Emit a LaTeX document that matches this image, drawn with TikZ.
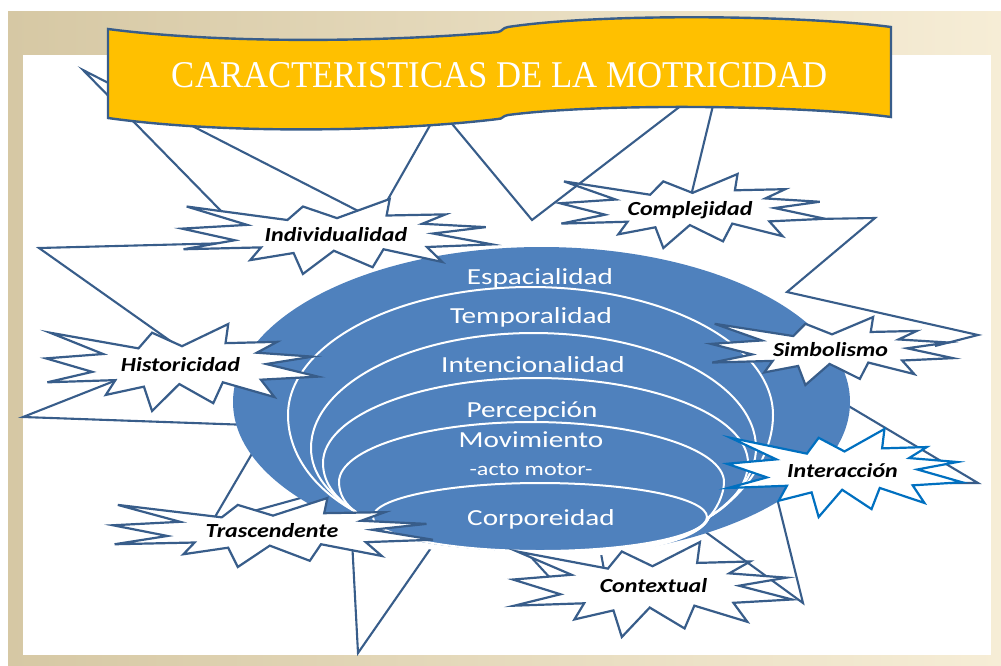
\documentclass[tikz,border=0pt]{standalone}
\usepackage{fontspec}
\newfontfamily\calibri{Carlito}
\newfontfamily\titulofont{Liberation Serif}
\definecolor{marco1}{HTML}{D6C8A4}
\definecolor{marco2}{HTML}{F6EDD6}
\definecolor{azulelipse}{HTML}{4F81BD}
\definecolor{azulborde}{HTML}{385D8A}
\definecolor{azulvivo}{HTML}{0070C0}
\definecolor{oro}{HTML}{FFC000}
\newcommand{\ancho}[1]{\scalebox{1.27}[1]{#1}}
\newcommand{\anchor}[1]{\scalebox{1.2}[1]{#1}}
\tikzset{
  burst/.pic={\path[pic actions] (0.015,0.10) -- (0.34,0.28) -- (0.39,0.10) -- (0.50,0.255) -- (0.67,0) -- (0.66,0.22) -- (0.85,0.205) -- (0.775,0.33) -- (0.98,0.375) -- (0.81,0.46) -- (1,0.605) -- (0.79,0.64) -- (0.84,0.84) -- (0.65,0.67) -- (0.615,0.91) -- (0.49,0.69) -- (0.39,1) -- (0.36,0.72) -- (0.22,0.815) -- (0.255,0.645) -- (0.005,0.67) -- (0.17,0.55) -- (0,0.395) -- (0.21,0.345) -- cycle;},
  estrella/.style={draw=azulborde, fill=white, line width=2.2},
  rayo/.style={draw=azulborde, line width=2.1},
  capa/.style={draw=white, line width=2},
  textocapa/.style={text=white, anchor=base, inner sep=0pt, font=\calibri\fontsize{23}{23}\selectfont},
  rasgo/.style={anchor=base, inner sep=0pt, font=\calibri\bfseries\itshape\fontsize{20}{20}\selectfont},
}
\begin{document}
\begin{tikzpicture}[x=1pt,y=-1pt]
\useasboundingbox (0,0) rectangle (1001,665);
\fill[white] (0,0) rectangle (1001,665);
\shade[left color=marco1,right color=marco2] (8,11) rectangle (1001,665);
\fill[white] (23,55) rectangle (991,655);
% rayos del fondo
\draw[rayo] (225,215) -- (83,70) -- (366,215);
\draw[rayo] (383,208) -- (445,99);
\draw[rayo] (433,101) -- (453,125) -- (532,220) -- (678,108) -- (705,87);
\draw[rayo] (718,85) -- (690,200);
\draw[rayo] (815,219) -- (875,218) -- (787,292) -- (978,335) -- (935,346);
\draw[rayo] (830,395) -- (978,483) -- (950,483);
\draw[rayo] (775,490) -- (803,603) -- (696,525);
\draw[rayo] (260,440) -- (212,522);
\draw[rayo] (250,512) -- (315,494);
\draw[rayo] (352,540) -- (358,653) -- (440,535);
\draw[rayo] (530,556) -- (552,580);
\draw[rayo] (600,548) -- (605,575);
\draw[rayo] (232,243) -- (39,248) -- (186,352);
\draw[rayo] (127,376) -- (23,417) -- (250,425);
% elipse y capas
\fill[azulelipse] (541.5,402) ellipse [x radius=308.5, y radius=155];
\draw[capa] (356,512) .. controls (315,490) and (288,455) .. (288,415) arc[start angle=180, end angle=360, x radius=242.5, y radius=128] .. controls (773,455) and (745,495) .. (709,517);
\draw[capa] (356,512) .. controls (330,495) and (311,475) .. (311,448) arc[start angle=180, end angle=360, x radius=222.5, y radius=115] .. controls (756,475) and (735,500) .. (709,517);
\draw[capa] (356,512) .. controls (338,500) and (323,485) .. (323,463) arc[start angle=180, end angle=360, x radius=212.5, y radius=85] .. controls (748,485) and (730,505) .. (709,517);
\draw[capa] (356,512) .. controls (346,505) and (339,495) .. (339,482) arc[start angle=180, end angle=360, x radius=192.5, y radius=60] .. controls (724,495) and (716,510) .. (709,517);
\foreach \fondo in {565,567,569,571}
  \draw[capa] (356,512) .. controls (372,\fondo) and (690,\fondo) .. (709,517);
\draw[capa] (540,517) ellipse [x radius=167, y radius=34];
\node[textocapa] (espacialidad) at (540,284) {\ancho{Espacialidad}};
\node[textocapa] (temporalidad) at (531,323) {\ancho{Temporalidad}};
\node[textocapa] (intencionalidad) at (533,372) {\ancho{Intencionalidad}};
\node[textocapa] (percepcion) at (532,417) {\ancho{Percepción}};
\node[textocapa] (movimiento) at (531,447) {\ancho{Movimiento}};
\node[textocapa, font=\calibri\fontsize{19}{19}\selectfont] (actomotor) at (531,475) {\ancho{-acto motor-}};
\node[textocapa] (corporeidad) at (541,525) {\ancho{Corporeidad}};
% estrellas
\pic[estrella, xscale=310, yscale=75] at (182,199) {burst};
\pic[estrella, xscale=272, yscale=87] at (46,324) {burst};
\pic[estrella, xscale=265, yscale=74] at (560,174) {burst};
\pic[estrella, xscale=242, yscale=68] at (711,317) {burst};
\pic[estrella, draw=azulvivo, xscale=235, yscale=88] at (727,429) {burst};
\pic[estrella, xscale=320, yscale=69] at (113,498) {burst};
\pic[estrella, xscale=279, yscale=95] at (513,542) {burst};
\node[rasgo] (individualidad) at (336,241) {\anchor{Individualidad}};
\node[rasgo] (historicidad) at (180.5,371.7) {\anchor{Historicidad}};
\node[rasgo] (complejidad) at (690,215) {\anchor{Complejidad}};
\node[rasgo] (simbolismo) at (830.5,356.7) {\anchor{Simbolismo}};
\node[rasgo] (interaccion) at (842.5,477.7) {\anchor{Interacción}};
\node[rasgo] (contextual) at (653.5,592.3) {\anchor{Contextual}};
\node[rasgo] (trascendente) at (272,537.7) {\anchor{Trascendente}};
% cinta del titulo
\draw[draw=azulborde, fill=oro, line width=2.4] (108,29) .. controls (230,45) and (400,41) .. (498,32) .. controls (503,31) and (502,28) .. (508,27) .. controls (600,13) and (800,15) .. (891,27) -- (891,117) .. controls (800,105) and (600,103) .. (508,115) .. controls (502,116) and (503,119) .. (498,119) .. controls (400,131) and (230,135) .. (108,118) -- cycle;
\node[anchor=base, inner sep=0pt, text=white] (titulo) at (500,87) {\resizebox{656pt}{25pt}{\titulofont CARACTERISTICAS DE LA MOTRICIDAD}};
\end{tikzpicture}
\end{document}
